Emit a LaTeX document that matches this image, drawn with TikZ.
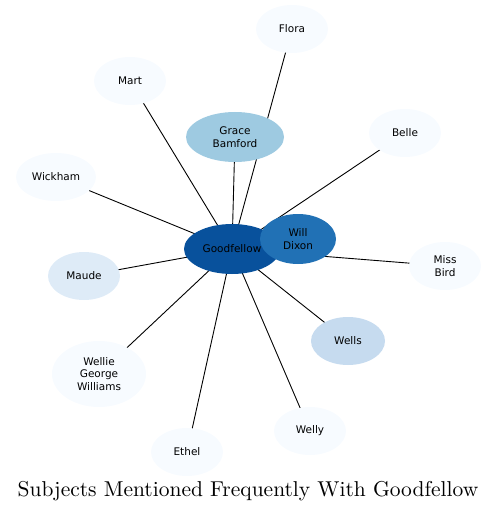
\documentclass[tikz,border=0pt]{standalone}
\usepackage{fontspec}
\newfontfamily\nodefont{DejaVu Sans}
\newfontfamily\titlefont{lmroman10-regular.otf}
\usetikzlibrary{shapes.geometric}
\pgfdeclarelayer{background}
\pgfsetlayers{background,main}
\definecolor{cA}{HTML}{08519C}
\definecolor{cB}{HTML}{2171B5}
\definecolor{cC}{HTML}{9ECAE1}
\definecolor{cD}{HTML}{C6DBEF}
\definecolor{cE}{HTML}{DEEBF7}
\definecolor{cF}{HTML}{F7FBFF}
\tikzset{
  person/.style={ellipse, inner sep=0pt, outer sep=0pt, draw=none, align=center,
    font=\nodefont\fontsize{10.5}{12.5}\selectfont, text=black,
    minimum width=72pt, minimum height=48pt, fill=cF},
  link/.style={draw=black, line width=0.9pt}
}
\begin{document}
\begin{tikzpicture}[x=1pt,y=-1pt]
\useasboundingbox (0,0) rectangle (497,513);
\node[person] (flora) at (292,29) {Flora};
\node[person] (mart) at (130,81) {Mart};
\node[person, fill=cC, minimum width=98pt, minimum height=50pt] (grace) at (235,137) {Grace\\Bamford};
\node[person] (belle) at (405,133) {Belle};
\node[person, minimum width=80pt] (wickham) at (56,177) {Wickham};
\node[person, fill=cA, minimum width=96pt, minimum height=50pt] (gf) at (232,249) {Goodfellow};
\node[person, fill=cB, minimum width=76pt, minimum height=50pt] (will) at (298,239) {Will\\Dixon};
\node[person] (missbird) at (445,266) {Miss\\Bird};
\node[person, fill=cE] (maude) at (84,276) {Maude};
\node[person, fill=cD, minimum width=74pt] (wells) at (348,341) {Wells};
\node[person, minimum width=94pt, minimum height=66pt] (wgw) at (99,374) {Wellie\\George\\Williams};
\node[person] (welly) at (310,431) {Welly};
\node[person] (ethel) at (187,452) {Ethel};
\node (title) at (248,491) {\titlefont\fontsize{21.5}{24}\selectfont Subjects Mentioned Frequently With Goodfellow};
\begin{pgfonlayer}{background}
\foreach \n in {flora,mart,grace,belle,wickham,will,missbird,maude,wells,wgw,welly,ethel}
  \draw[link] (gf.center) -- (\n.center);
\end{pgfonlayer}
\end{tikzpicture}
\end{document}
